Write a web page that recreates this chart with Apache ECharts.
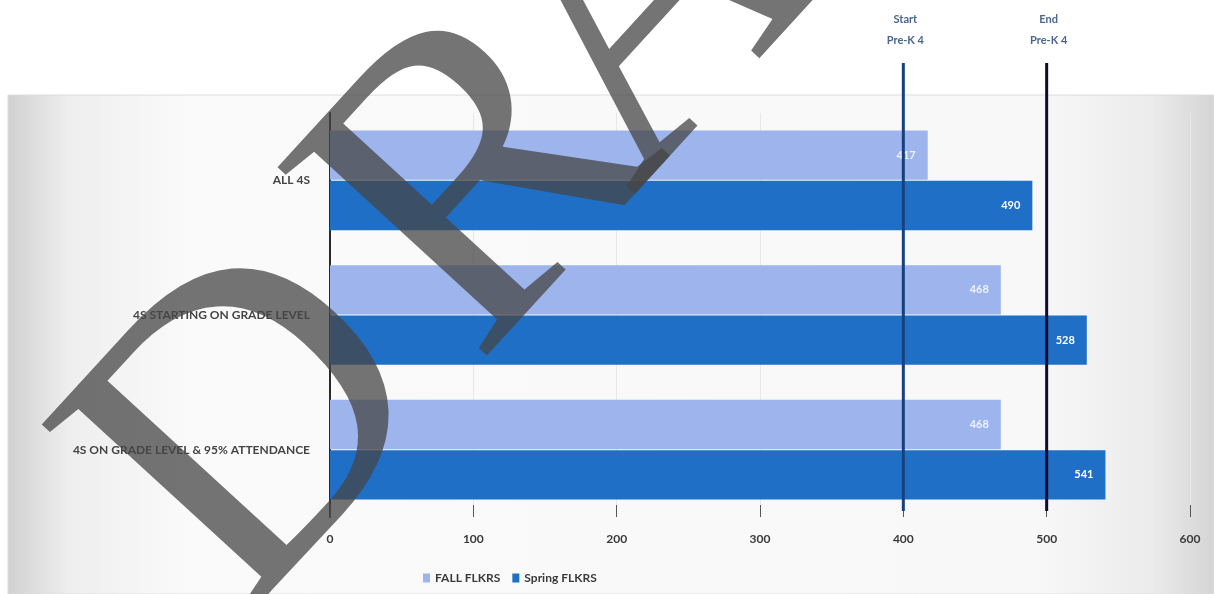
<!DOCTYPE html>
<html><head><meta charset="utf-8">
<script src="https://cdn.jsdelivr.net/npm/echarts@6/dist/echarts.min.js"></script>
<style>html,body{margin:0;padding:0;background:#fff}#c{width:1214px;height:594px}</style>
</head><body><div id="c"></div>
<script>
const categories = ['ALL 4S', '4S STARTING ON GRADE LEVEL', '4S ON GRADE LEVEL & 95% ATTENDANCE'];
const fallValues = [417, 468, 468];
const springValues = [490, 528, 541];
const seriesNames = ['FALL FLKRS', 'Spring FLKRS'];
const markerValues = [400, 500];
const markerLabels = ['Start\nPre-K 4', 'End\nPre-K 4'];
const axisMin = 0, axisMax = 600, axisStep = 100;
const watermarkLetters = ['D', 'R', 'A', 'F', 'T'];

const FONT = 'Lato, "Open Sans", sans-serif';
const chart = echarts.init(document.getElementById('c'), null, {renderer: 'canvas'});

chart.setOption({
  animation: false,
  backgroundColor: '#ffffff',
  grid: {left: 330, right: 24, top: 113, bottom: 77, containLabel: false},
  legend: {
    data: seriesNames, left: 418, top: 567, itemWidth: 7, itemHeight: 9, itemGap: 12,
    icon: 'rect',
    textStyle: {fontFamily: FONT, fontWeight: 'bold', fontSize: 12, color: '#3a3a3a'}
  },
  xAxis: {
    type: 'value', min: axisMin, max: axisMax, interval: axisStep,
    axisLine: {show: false},
    axisTick: {show: true, inside: true, length: 12, lineStyle: {color: '#555', width: 1}},
    splitLine: {show: true, lineStyle: {color: '#e8e8e8', width: 1}},
    axisLabel: {margin: 16, fontFamily: FONT, fontWeight: 'bold', fontSize: 12, color: '#3a3a3a'}
  },
  yAxis: {
    type: 'category', data: categories, inverse: true,
    axisLine: {show: true, lineStyle: {color: '#2a2a2a', width: 2}},
    axisTick: {show: false},
    axisLabel: {margin: 20, fontFamily: FONT, fontWeight: 'bold', fontSize: 12, color: '#444'}
  },
  series: [
    {
      name: seriesNames[0], type: 'bar', data: fallValues,
      barGap: '2%', barCategoryGap: '26%',
      itemStyle: {color: '#9db4ec'},
      label: {show: true, position: 'insideRight', distance: 12, color: '#eef2ff', fontFamily: FONT, fontWeight: 'bold', fontSize: 11}
    },
    {
      name: seriesNames[1], type: 'bar', data: springValues,
      itemStyle: {color: '#1f6fc6'},
      label: {show: true, position: 'insideRight', distance: 12, color: '#ffffff', fontFamily: FONT, fontWeight: 'bold', fontSize: 11}
    }
  ]
});

const lineColors = ['#17407e', '#0c0c2c'];
const graphics = [];
graphics.push({type: 'rect', z: -10, silent: true, shape: {x: 8, y: 95, width: 1206, height: 499},
  style: {fill: new echarts.graphic.LinearGradient(0, 0, 1, 0, [
    {offset: 0, color: '#d0d0d0'}, {offset: 0.05, color: '#eeeeee'}, {offset: 0.15, color: '#fafafa'},
    {offset: 0.85, color: '#f8f8f8'}, {offset: 0.95, color: '#ebebeb'}, {offset: 1, color: '#d4d4d4'}]),
    stroke: '#dcdcdc', lineWidth: 1}});
markerValues.forEach(function (v, i) {
  const px = chart.convertToPixel({xAxisIndex: 0}, v);
  graphics.push({type: 'line', z: 50, silent: true, shape: {x1: px, y1: 63, x2: px, y2: 511},
    style: {stroke: lineColors[i], lineWidth: 3}});
  graphics.push({type: 'text', z: 50, silent: true, x: px + 2, y: 9,
    style: {text: markerLabels[i], align: 'center', verticalAlign: 'top', lineHeight: 21,
      font: 'bold 11px ' + FONT, fill: '#4a6590'}});
});

// "DRAFT" watermark, letters placed along a rotated baseline
const wmSize = 430, wmAngle = 47.5 * Math.PI / 180;
const wmP0 = [590, 233];
const wmOffsets = [-524, -175, 55, 370, 630];
const rx = Math.cos(wmAngle), ry = -Math.sin(wmAngle);
const ux = -Math.sin(wmAngle), uy = -Math.cos(wmAngle);
watermarkLetters.forEach(function (ch, i) {
  const t = wmOffsets[i];
  const bx = wmP0[0] + t * rx, by = wmP0[1] + t * ry;
  const k = 0.247 * wmSize;
  graphics.push({type: 'text', z: 100, silent: true, x: bx + k * ux, y: by + k * uy, rotation: wmAngle,
    style: {text: ch, align: 'left', verticalAlign: 'middle',
      font: wmSize + 'px "Liberation Serif", serif', fill: 'rgba(70,70,70,0.75)'}});
});
chart.setOption({graphic: graphics});
</script></body></html>
